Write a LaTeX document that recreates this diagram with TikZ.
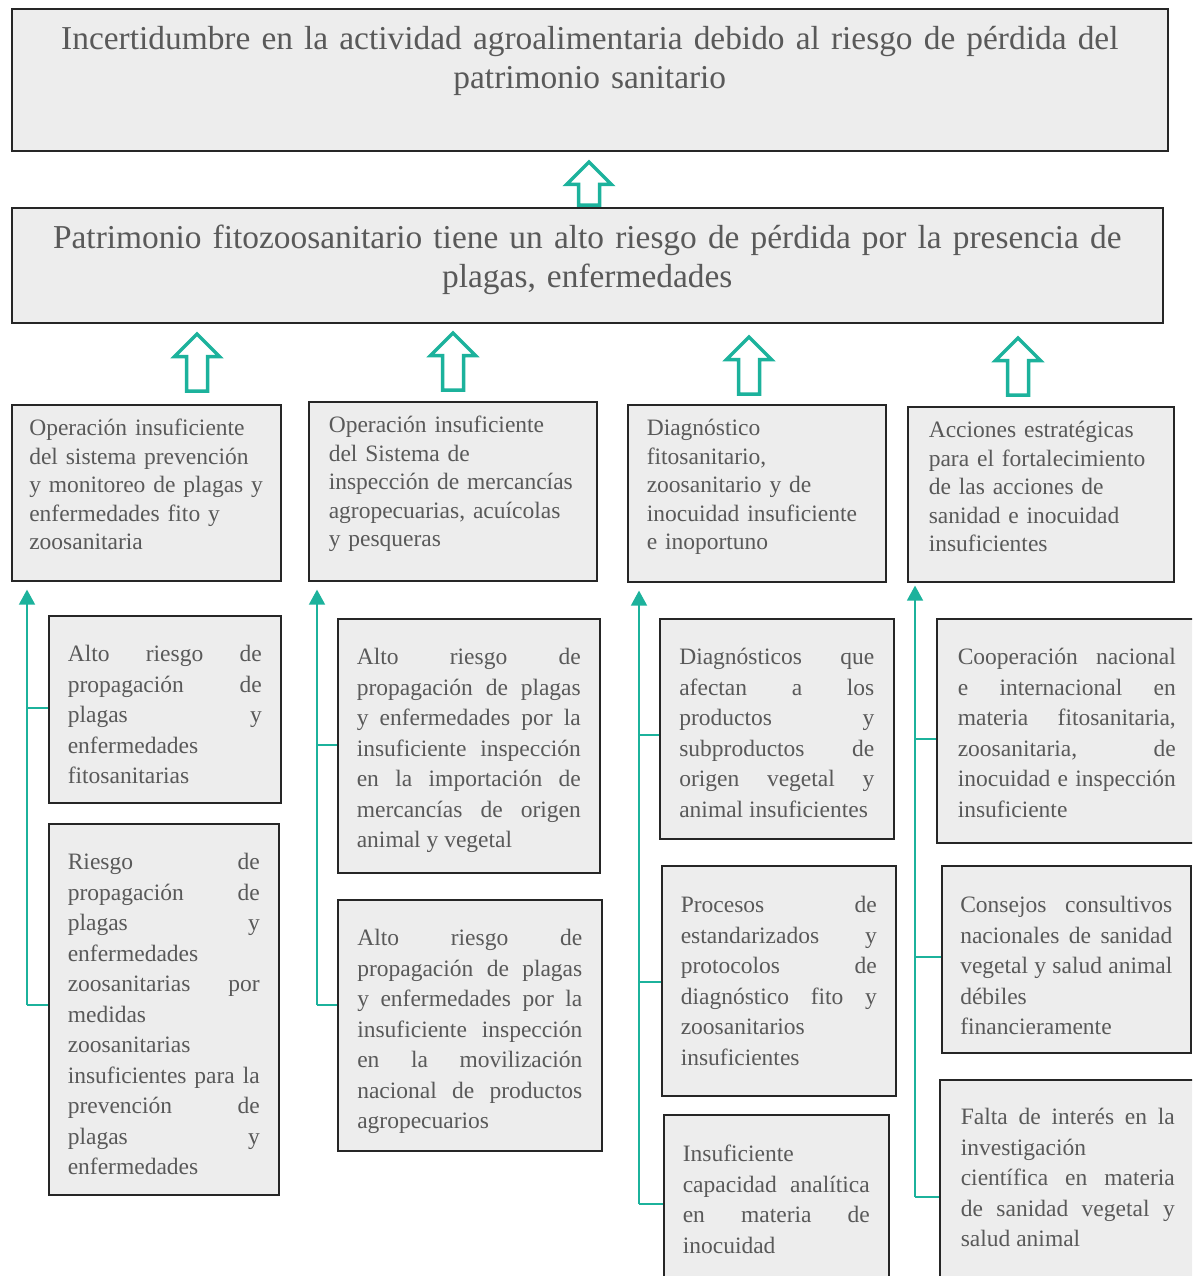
\documentclass[tikz,border=0pt]{standalone}
\usepackage{fontspec}
\setmainfont{Liberation Serif}
\usepackage{tikz}
\usetikzlibrary{arrows.meta}
\definecolor{boxgray}{HTML}{EDEDED}
\definecolor{txtgray}{HTML}{595959}
\definecolor{aqua}{HTML}{1CB29C}
\tolerance=9999
\hbadness=10000
\hyphenpenalty=10000
\exhyphenpenalty=10000

\begin{document}
\begin{tikzpicture}[x=1pt, y=-1pt,
  box/.style={draw=black!85, line width=1.6pt, fill=boxgray, text=txtgray, anchor=north west, inner ysep=0pt},
  title/.style={box, align=center, inner xsep=10pt, font=\fontsize{33.4}{38.5}\selectfont},
  cause/.style={box, align=left, inner xsep=19pt, font=\fontsize{23.5}{28.5}\selectfont},
  sub/.style={box, align=justify, inner xsep=19pt, font=\fontsize{23.5}{30.5}\selectfont},
  link/.style={draw=aqua, line width=1.6pt},
  tip/.style={link, -{Triangle[width=16pt,length=15pt]}},
  hollow/.style={draw=aqua, line width=3.5pt, fill=white, line join=miter}
]
\newcommand{\hollowup}[2]{% base point, shaft length
  \draw[hollow] (#1) ++(-10.5,0) -- ++(0,-#2) -- ++(-12,0) -- ++(22.5,-22.5)
    -- ++(22.5,22.5) -- ++(-12,0) -- ++(0,#2) -- cycle;}

\clip (0,0) rectangle (1192,1276);

% effect and problem
\node[title, text width=1136pt, text height=41pt, text depth=101pt] (a) at (11,8)
  {Incertidumbre en la actividad agroalimentaria debido al riesgo de pérdida del\\ patrimonio sanitario};
\node[title, text width=1131pt, text height=41pt, text depth=74pt] (b) at (11,207)
  {Patrimonio fitozoosanitario tiene un alto riesgo de pérdida por la presencia de\\ plagas, enfermedades};

% causes
\node[cause, inner xsep=17.5pt, text width=234pt, text height=31pt, text depth=145pt] (c1) at (11,404)
  {Operación insuficiente\\ del sistema prevención\\ y monitoreo de plagas y\\ enfermedades fito y\\ zoosanitaria};
\node[cause, inner xsep=20pt, text width=248pt, text height=31pt, text depth=148pt] (c2) at (308,401)
  {Operación insuficiente\\ del Sistema de\\ inspección de mercancías\\ agropecuarias, acuícolas\\ y pesqueras};
\node[cause, text width=220pt, text height=31pt, text depth=146pt] (c3) at (627,404)
  {Diagnóstico\\ fitosanitario,\\ zoosanitario y de\\ inocuidad insuficiente\\ e inoportuno};
\node[cause, inner xsep=21pt, text width=224pt, text height=31pt, text depth=144pt] (c4) at (907,406)
  {Acciones estratégicas\\ para el fortalecimiento\\ de las acciones de\\ sanidad e inocuidad\\ insuficientes};

% sub causes, column 1
\node[sub, text width=194pt, text height=46pt, text depth=141pt] (d11) at (48,615)
  {Alto riesgo de\linebreak propagación de\linebreak plagas y\linebreak enfermedades\linebreak fitosanitarias};
\node[sub, text width=192pt, text height=46pt, text depth=325pt] (d12) at (48,823)
  {Riesgo de\linebreak propagación de\linebreak plagas y\linebreak enfermedades\linebreak zoosanitarias por\linebreak medidas\linebreak zoosanitarias\linebreak insuficientes para la\linebreak prevención de\linebreak plagas y\linebreak enfermedades};

% column 2
\node[sub, text width=224pt, text height=46pt, text depth=208pt] (d21) at (337,618)
  {Alto riesgo de\linebreak propagación de plagas\linebreak y enfermedades por la\linebreak insuficiente inspección\linebreak en la importación de\linebreak mercancías de origen\linebreak animal y vegetal};
\node[sub, inner xsep=19.5pt, text width=225pt, text height=46pt, text depth=205pt] (d22) at (337,899)
  {Alto riesgo de\linebreak propagación de plagas\linebreak y enfermedades por la\linebreak insuficiente inspección\linebreak en la movilización\linebreak nacional de productos\linebreak agropecuarios};

% column 3
\node[sub, inner xsep=19.5pt, text width=195pt, text height=46pt, text depth=174pt] (d31) at (659,618)
  {Diagnósticos que\linebreak afectan a los\linebreak productos y\linebreak subproductos de\linebreak origen vegetal y\linebreak animal insuficientes};
\node[sub, text width=196pt, text height=47pt, text depth=183pt] (d32) at (661,865)
  {Procesos de\linebreak estandarizados y\linebreak protocolos de\linebreak diagnóstico fito y\linebreak zoosanitarios\linebreak insuficientes};
\node[sub, text width=187pt, text height=47pt, text depth=129pt] (d33) at (663,1114)
  {Insuficiente\linebreak capacidad analítica\linebreak en materia de\linebreak inocuidad};

% column 4
\node[sub, inner xsep=21pt, text width=218pt, text height=46pt, text depth=178pt] (d41) at (936,618)
  {Cooperación nacional\linebreak e internacional en\linebreak materia fitosanitaria,\linebreak zoosanitaria, de\linebreak inocuidad e inspección\linebreak insuficiente};
\node[sub, inner xsep=18.5pt, text width=212pt, text height=47pt, text depth=140pt] (d42) at (941,865)
  {Consejos consultivos\linebreak nacionales de sanidad\linebreak vegetal y salud animal\linebreak débiles\linebreak financieramente};
\node[sub, inner xsep=21pt, text width=214pt, text height=45pt, text depth=166pt] (d43) at (939,1079)
  {Falta de interés en la\linebreak investigación\linebreak científica en materia\linebreak de sanidad vegetal y\linebreak salud animal};

% hollow arrows
\coordinate (upab) at (589,205);
\coordinate (up1) at (197,391);
\coordinate (up2) at (453,390);
\coordinate (up3) at (749,394);
\coordinate (up4) at (1018,395);
\hollowup{upab}{20.5}
\foreach \u in {up1,up2,up3,up4} {\hollowup{\u}{34.5}}

% spines
\coordinate (s1) at (27,1005);
\coordinate (s2) at (317,1005);
\coordinate (s3) at (639,1204);
\coordinate (s4) at (915,1197);
\draw[tip] (s1) -- ([yshift=-8pt]s1 |- c1.south);
\draw[tip] (s2) -- ([yshift=-8pt]s2 |- c2.south);
\draw[tip] (s3) -- ([yshift=-8pt]s3 |- c3.south);
\draw[tip] (s4) -- ([yshift=-3pt]s4 |- c4.south);

% branches
\draw[link] (s1 |- 0,708) -- (d11.west |- 0,708);
\draw[link] (s1) -- (d12.west |- s1);
\draw[link] (s2 |- 0,745) -- (d21.west |- 0,745);
\draw[link] (s2) -- (d22.west |- s2);
\draw[link] (s3 |- 0,735) -- (d31.west |- 0,735);
\draw[link] (s3 |- 0,982) -- (d32.west |- 0,982);
\draw[link] (s3) -- (d33.west |- s3);
\draw[link] (s4 |- 0,739) -- (d41.west |- 0,739);
\draw[link] (s4 |- 0,957) -- (d42.west |- 0,957);
\draw[link] (s4) -- (d43.west |- s4);
\end{tikzpicture}
\end{document}
